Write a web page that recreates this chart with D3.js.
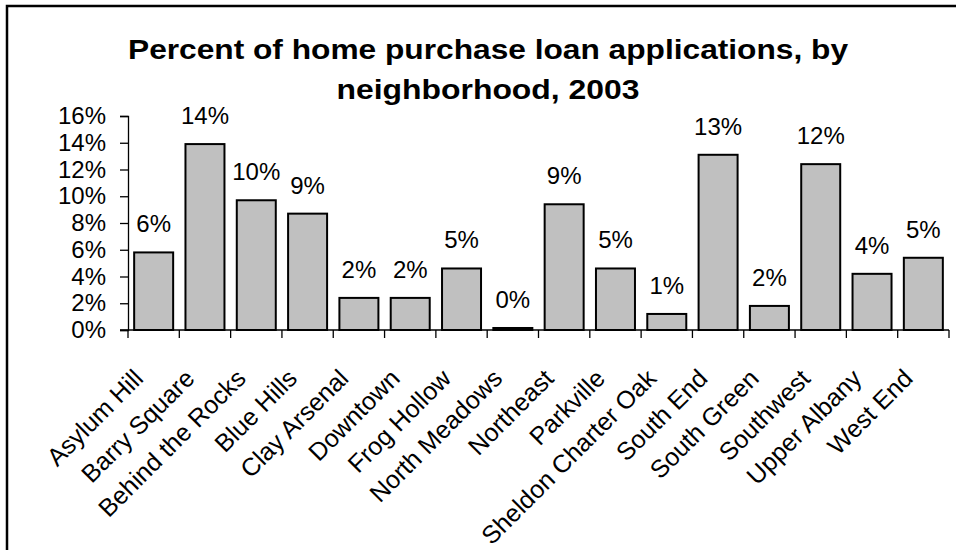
<!DOCTYPE html>
<html>
<head>
<meta charset="utf-8">
<script src="https://cdn.jsdelivr.net/npm/d3@7/dist/d3.min.js"></script>
<style>
  body { margin: 0; background: #fff; }
  svg { display: block; font-family: Arial, "Liberation Sans", sans-serif; }
</style>
</head>
<body>
<div id="chart"></div>
<script>
var neighborhoods = ['Asylum Hill', 'Barry Square', 'Behind the Rocks', 'Blue Hills', 'Clay Arsenal',
    'Downtown', 'Frog Hollow', 'North Meadows', 'Northeast', 'Parkville', 'Sheldon Charter Oak',
    'South End', 'South Green', 'Southwest', 'Upper Albany', 'West End'];
var applicationShare = [0.058, 0.139, 0.097, 0.087, 0.024, 0.024, 0.046, 0.0015, 0.094, 0.046,
    0.012, 0.131, 0.018, 0.124, 0.042, 0.054];
var yTicks = [0, 0.02, 0.04, 0.06, 0.08, 0.10, 0.12, 0.14, 0.16];
var titleLines = ['Percent of home purchase loan applications, by', 'neighborhood, 2003'];

var W = 956, H = 550;
var plot = { left: 128, right: 949, top: 116, bottom: 330 };

var svg = d3.select('#chart').append('svg').attr('width', W).attr('height', H);

// outer frame (right and bottom edges fall outside the picture)
svg.append('rect').attr('x', 7).attr('y', 6).attr('width', 1000).attr('height', 600)
    .attr('fill', 'none').attr('stroke', '#000').attr('stroke-width', 2.5);

// title
var titleWidths = [720, 303];
svg.append('g').selectAll('text').data(titleLines).enter().append('text')
    .attr('x', 488).attr('y', function (d, i) { return 59 + i * 40; })
    .attr('text-anchor', 'middle')
    .attr('font-size', 28).attr('font-weight', 'bold')
    .attr('textLength', function (d, i) { return titleWidths[i]; })
    .attr('lengthAdjust', 'spacingAndGlyphs')
    .text(function (d) { return d; });

var x = d3.scaleBand().domain(neighborhoods).range([plot.left, plot.right])
    .paddingInner(0.24).paddingOuter(0.12);
var y = d3.scaleLinear().domain([0, 0.16]).range([plot.bottom, plot.top]);
var pct = d3.format('.0%');

// y axis
var yAxis = svg.append('g').attr('transform', 'translate(' + plot.left + ',0)')
    .call(d3.axisLeft(y).tickValues(yTicks).tickFormat(pct).tickSize(8).tickPadding(14));
yAxis.select('.domain').attr('stroke', '#000').attr('stroke-width', 1.3);
yAxis.selectAll('.tick line').attr('stroke', '#000').attr('stroke-width', 1.3);
yAxis.selectAll('.tick text').attr('font-size', 24).attr('fill', '#000')
    .attr('font-family', 'Arial, "Liberation Sans", sans-serif');

// bars
var data = neighborhoods.map(function (n, i) { return { name: n, value: applicationShare[i] }; });
svg.append('g').selectAll('rect').data(data).enter().append('rect')
    .attr('x', function (d) { return x(d.name); })
    .attr('y', function (d) { return y(d.value); })
    .attr('width', x.bandwidth())
    .attr('height', function (d) { return y(0) - y(d.value); })
    .attr('fill', '#c0c0c0').attr('stroke', '#000').attr('stroke-width', 2);

// value labels
svg.append('g').selectAll('text').data(data).enter().append('text')
    .attr('x', function (d) { return x(d.name) + x.bandwidth() / 2; })
    .attr('y', function (d) { return y(d.value) - 20; })
    .attr('text-anchor', 'middle').attr('font-size', 24)
    .text(function (d) { return pct(Math.round(d.value * 100) / 100); });

// x axis line and category divider ticks
var step = x.step();
var xAxis = svg.append('g');
xAxis.append('line').attr('x1', plot.left - 8).attr('x2', plot.right)
    .attr('y1', plot.bottom).attr('y2', plot.bottom)
    .attr('stroke', '#000').attr('stroke-width', 1.3);
var dividers = neighborhoods.map(function (n) { return x(n) - step * x.paddingInner() / 2; })
    .concat([plot.right]);
xAxis.selectAll('.div').data(dividers).enter().append('line')
    .attr('x1', function (d) { return d; }).attr('x2', function (d) { return d; })
    .attr('y1', plot.bottom).attr('y2', plot.bottom + 8)
    .attr('stroke', '#000').attr('stroke-width', 1.3);

// rotated category labels
xAxis.selectAll('.lbl').data(neighborhoods).enter().append('text')
    .attr('text-anchor', 'end').attr('font-size', 25)
    .attr('transform', function (d) {
        return 'translate(' + (x(d) + x.bandwidth() / 2 - 9) + ',' + 380 + ') rotate(-45)';
    })
    .text(function (d) { return d; });
</script>
</body>
</html>
